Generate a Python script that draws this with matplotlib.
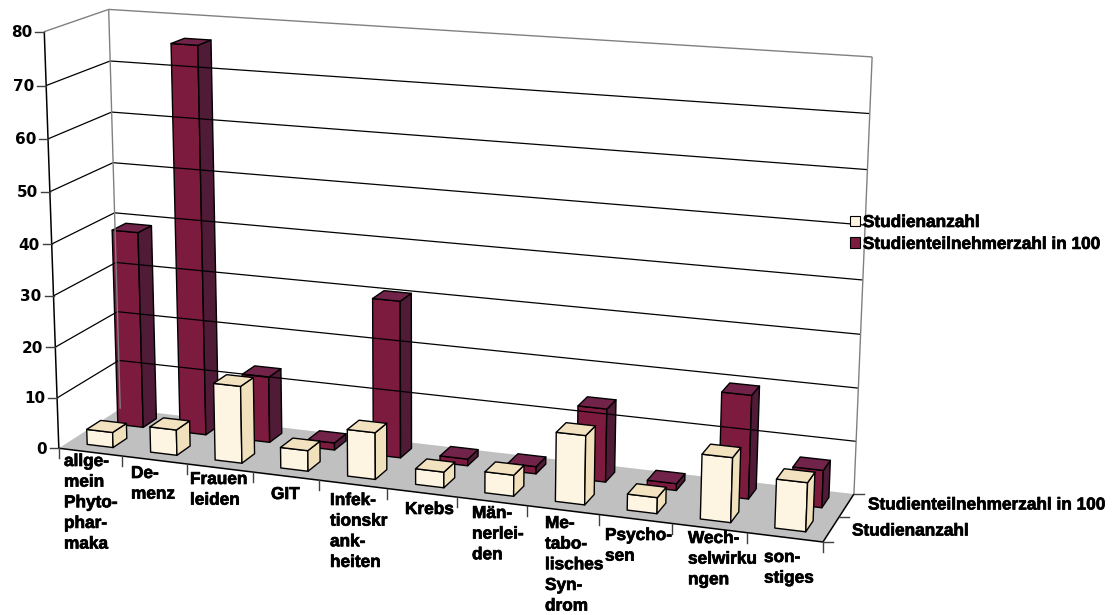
import numpy as np
import matplotlib
matplotlib.use("Agg")
import matplotlib.pyplot as plt
import matplotlib.patheffects as pe
from matplotlib.patches import Patch

categories = ["allge-\nmein\nPhyto-\nphar-\nmaka", "De-\nmenz", "Frauen\nleiden", "GIT",
              "Infek-\ntionskr\nank-\nheiten", "Krebs", "Män-\nnerlei-\nden",
              "Me-\ntabo-\nlisches\nSyn-\ndrom", "Psycho-\nsen", "Wech-\nselwirku\nngen",
              "son-\nstiges"]
studienanzahl = [3, 5, 15, 4, 9, 3, 4, 13, 3, 12, 9]
teilnehmer = [39, 76, 13, 1.4, 30.5, 1.3, 1.4, 14, 1.3, 19.5, 7]
series_names = ["Studienanzahl", "Studienteilnehmerzahl in 100"]
y_ticks = [0, 10, 20, 30, 40, 50, 60, 70, 80]

# where the labels sit (left edge, top of first line), pixels
label_pos = [(64, 454), (131, 466), (190, 472), (271, 487), (330, 493), (405, 502),
             (472, 506), (545, 516), (605, 528), (688, 531), (764, 550)]

CREAM = ("#FDF5E1", "#F0E0BC", "#F2E2C0")
MAROON = ("#7D1B3F", "#4F1B36", "#722349")
FONT = "Liberation Sans"
FS = 12.4
HEAVY = [pe.withStroke(linewidth=0.5, foreground="black")]

# pane corners in picture: (category, depth, value) -> pixel
n_cat = len(categories)
corners = [((0, 0, 0), (60, 447)), ((0, 1, 0), (119, 410)), ((1, 0, 0), (823, 543)),
           ((1, 1, 0), (854, 493)), ((0, 0, 1), (43, 32)), ((0, 1, 1), (110, 9)),
           ((1, 1, 1), (872, 57))]
rows = []
for (a, b, c), (u, v) in corners:
    rows.append([a, b, c, 1, 0, 0, 0, 0, -u * a, -u * b, -u * c, -u])
    rows.append([0, 0, 0, 0, a, b, c, 1, -v * a, -v * b, -v * c, -v])
P = np.linalg.svd(np.array(rows, dtype=float))[2][-1].reshape(3, 4)


def proj(c, d, val):
    w = P @ np.array([c / n_cat, d / 2, val / 80, 1.0])
    return w[0] / w[2], w[1] / w[2]


fig = plt.figure(figsize=(11.12, 6.15), dpi=100)
ax = fig.add_axes([0, 0, 1, 1])
ax.set_xlim(0, 1112)
ax.set_ylim(615, 0)
ax.axis("off")


def line(a, b, color="black", lw=0.9):
    ax.plot(*zip(proj(*a), proj(*b)), color=color, lw=lw, solid_capstyle="butt")


# floor
ax.fill(*zip(proj(0, 0, 0), proj(n_cat, 0, 0), proj(n_cat, 2, 0), proj(0, 2, 0)),
        color="#C0C0C0", lw=0)

# gridlines
for v in y_ticks[1:-1]:
    line((0, 0, v), (0, 2, v))
    line((0, 2, v), (n_cat, 2, v))
line((0, 0, 80), (0, 2, 80), "#808080", 1.0)
line((0, 2, 80), (n_cat, 2, 80), "#808080", 1.0)
line((0, 2, 0), (0, 2, 80), "#808080", 1.0)
line((n_cat, 2, 0), (n_cat, 2, 80), "#808080", 1.0)
line((0, 0, 0), (0, 0, 80), lw=1.1)
line((0, 0, 0), (n_cat, 0, 0), lw=1.1)
line((n_cat, 0, 0), (n_cat, 2, 0), lw=1.1)

# ticks and tick labels
for v in y_ticks:
    x, y = proj(0, 0, v)
    ax.plot([x - 9, x], [y, y], color="#404040", lw=1.0)
    ax.text(x - 12, y + 1, str(v), ha="right", va="center", fontsize=11, fontweight="bold",
            family="DejaVu Sans", color="black")
for i in range(n_cat + 1):
    x, y = proj(i, 0, 0)
    ax.plot([x, x], [y, y + 10], color="#404040", lw=1.0)
for d in range(3):
    x, y = proj(n_cat, d, 0)
    ax.plot([x, x + 10], [y, y], color="#404040", lw=1.0)
for txt, (x, y) in zip(categories, label_pos):
    ax.text(x, y, txt, ha="left", va="top", fontsize=FS, fontweight="bold", family=FONT,
            linespacing=1.47, path_effects=HEAVY)
ax.text(852, 531, series_names[0], va="center", fontsize=FS, fontweight="bold", family=FONT,
        path_effects=HEAVY)
ax.text(868, 505, series_names[1], va="center", fontsize=FS, fontweight="bold", family=FONT,
        path_effects=HEAVY)


def bar(i, slot, val, cols):
    c0, c1 = i + 0.30, i + 0.71
    d0, d1 = slot + 0.3, slot + 0.75
    front = [proj(c0, d0, 0), proj(c1, d0, 0), proj(c1, d0, val), proj(c0, d0, val)]
    side = [proj(c1, d0, 0), proj(c1, d1, 0), proj(c1, d1, val), proj(c1, d0, val)]
    top = [proj(c0, d0, val), proj(c1, d0, val), proj(c1, d1, val), proj(c0, d1, val)]
    for poly, col in zip((front, side, top), cols):
        ax.fill(*zip(*poly), facecolor=col, edgecolor="black", lw=1.0, joinstyle="round")


# back row first, front row on top of it
for i, v in enumerate(teilnehmer):
    bar(i, 1, v, MAROON)
for i, v in enumerate(studienanzahl):
    bar(i, 0, v, CREAM)

handles = [Patch(facecolor=CREAM[0], edgecolor="black", lw=0.8),
           Patch(facecolor=MAROON[0], edgecolor="black", lw=0.8)]
leg = ax.legend(handles, series_names, loc="upper left", bbox_to_anchor=(850, 215),
                bbox_transform=ax.transData, frameon=False, borderpad=0, borderaxespad=0,
                handlelength=0.58, handleheight=0.58, handletextpad=0.17, labelspacing=0.4,
                prop={"family": FONT, "weight": "bold", "size": FS})
for t in leg.get_texts():
    t.set_path_effects(HEAVY)

fig.savefig("out.png", dpi=100)
